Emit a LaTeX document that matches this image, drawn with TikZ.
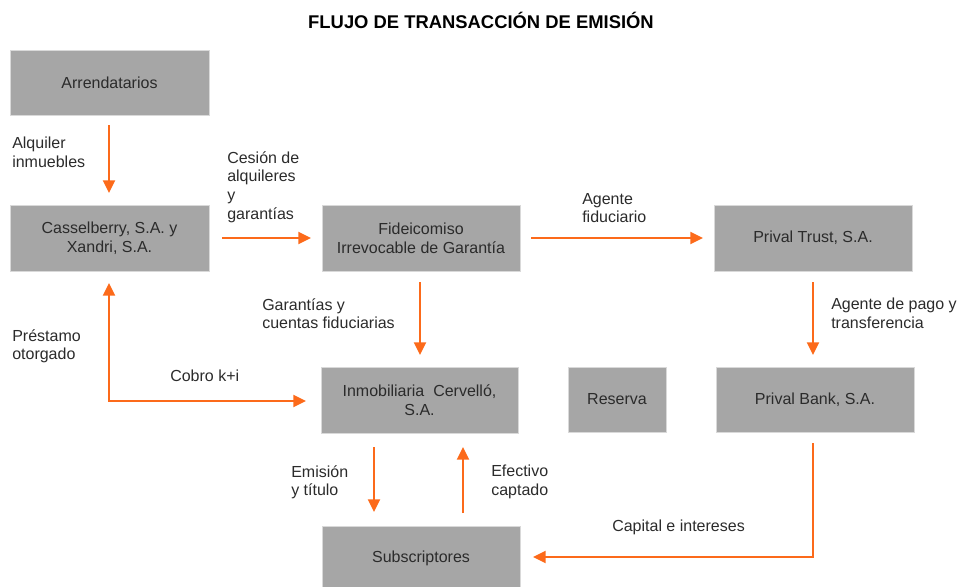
\documentclass[tikz,border=0pt]{standalone}
\usepackage{fontspec}
\setmainfont{Liberation Sans}
\usetikzlibrary{arrows.meta}
\definecolor{boxgrey}{HTML}{A6A6A6}
\definecolor{boxedge}{HTML}{D9D9D9}
\definecolor{arrorange}{HTML}{FC6A1A}
\definecolor{txt}{HTML}{2B2B2B}
\begin{document}
\begin{tikzpicture}[x=0.75pt,y=-0.75pt,
  box/.style={fill=boxgrey,draw=boxedge,line width=0.6pt,inner sep=0pt,text=txt,
    font=\fontsize{12}{14}\selectfont,align=center},
  lbl/.style={text=txt,font=\fontsize{12}{14}\selectfont,align=left,inner sep=0pt,anchor=north west},
  flow/.style={draw=arrorange,line width=1.6pt,-{Triangle[length=9.5pt,width=9pt]}},
  flow2/.style={draw=arrorange,line width=1.6pt,{Triangle[length=9.5pt,width=9pt]}-{Triangle[length=9.5pt,width=9pt]}}]
\useasboundingbox (0,0) rectangle (961,586);
\node[font=\bfseries\fontsize{13.8}{16}\selectfont,text=black] (title) at (481,20) {FLUJO DE TRANSACCIÓN DE EMISIÓN};
% boxes
\node[box,minimum width=149.25pt,minimum height=48.75pt] (arr) at (109.5,82.5) {Arrendatarios};
\node[box,minimum width=149.25pt,minimum height=49.5pt] (cas) at (109.5,238) {Casselberry, S.A. y\\Xandri, S.A.};
\node[box,minimum width=148.5pt,minimum height=49.5pt] (fid) at (421,238) {Fideicomiso\\Irrevocable de Garantía};
\node[box,minimum width=148.5pt,minimum height=49.5pt] (trust) at (813,238) {Prival Trust, S.A.};
\node[box,minimum width=147.75pt,minimum height=49.5pt] (inm) at (419.5,400) {Inmobiliaria\ \ Cervelló,\\S.A.};
\node[box,minimum width=73.5pt,minimum height=48.75pt] (res) at (617,399.5) {Reserva};
\node[box,minimum width=148.5pt,minimum height=48.75pt] (bank) at (815,399.5) {Prival Bank, S.A.};
\node[box,minimum width=148.5pt,minimum height=48pt] (sub) at (421,558) {Subscriptores};
% connectors
\coordinate (a1) at (109,125);
\coordinate (a2) at (109,193);
\draw[flow] (a1) -- (a2);
\coordinate (b1) at (222,238);
\coordinate (b2) at (311,238);
\draw[flow] (b1) -- (b2);
\coordinate (c1) at (531,238);
\coordinate (c2) at (703,238);
\draw[flow] (c1) -- (c2);
\coordinate (d1) at (813,282);
\coordinate (d2) at (813,355);
\draw[flow] (d1) -- (d2);
\coordinate (e1) at (420,282);
\coordinate (e2) at (420,355);
\draw[flow] (e1) -- (e2);
\coordinate (f1) at (109,283);
\coordinate (f2) at (109,401);
\coordinate (f3) at (306,401);
\draw[flow2] (f1) -- (f2) -- (f3);
\coordinate (g1) at (374,447);
\coordinate (g2) at (374,512);
\draw[flow] (g1) -- (g2);
\coordinate (h1) at (463,513);
\coordinate (h2) at (463,447);
\draw[flow] (h1) -- (h2);
\coordinate (i1) at (813,443);
\coordinate (i2) at (813,557);
\coordinate (i3) at (533,557);
\draw[flow] (i1) -- (i2) -- (i3);
% labels
\node[lbl] (l1) at (12,137) {Alquiler\\inmuebles};
\node[lbl] (l2) at (227,151) {Cesión de\\alquileres\\y\\garantías};
\node[lbl] (l3) at (582,193) {Agente\\fiduciario};
\node[lbl] (l4) at (831,298) {Agente de pago y\\transferencia};
\node[lbl] (l5) at (262,298) {Garantías y\\cuentas fiduciarias};
\node[lbl] (l6) at (12,329) {Préstamo\\otorgado};
\node[lbl] (l7) at (170,370) {Cobro k+i};
\node[lbl] (l8) at (291,465) {Emisión\\y título};
\node[lbl] (l9) at (491,465) {Efectivo\\captado};
\node[lbl] (l10) at (612,520) {Capital e intereses};
\end{tikzpicture}
\end{document}
